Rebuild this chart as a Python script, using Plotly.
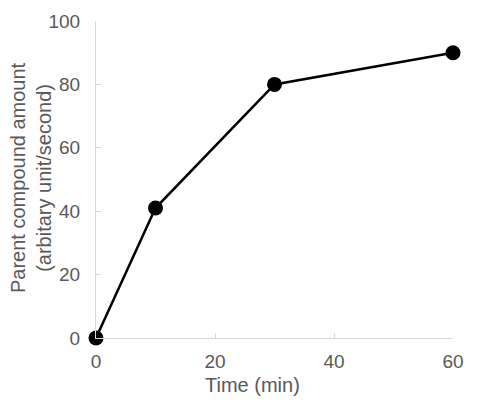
import plotly.graph_objects as go

time_min = [0, 10, 30, 60]
amount = [0, 41, 80, 90]
x_ticks = [0, 20, 40, 60]
y_ticks = [0, 20, 40, 60, 80, 100]

FONT = "Liberation Sans, Arial, sans-serif"
GRAY = "#595959"
AXIS = "#d9d9d9"

# page body has an 8px margin, so figure coords = screen coords - 8
OFF = 8
L, T, R, B = 96 - OFF, 21 - OFF, 38, 75
W, H = 483, 405

fig = go.Figure()
fig.add_trace(go.Scatter(
    x=time_min, y=amount, mode="lines+markers",
    line=dict(color="black", width=2.5),
    marker=dict(color="black", size=15),
    cliponaxis=False, showlegend=False,
))

fig.update_layout(
    width=W, height=H,
    margin=dict(l=L, r=R, t=T, b=B, autoexpand=False),
    paper_bgcolor="white", plot_bgcolor="white",
    font=dict(family=FONT, color=GRAY, size=19),
    xaxis=dict(range=[0, 60], tickvals=x_ticks, showgrid=False, zeroline=False,
               showline=True, linecolor=AXIS, linewidth=1,
               ticks="inside", ticklen=5, tickcolor=AXIS, ticklabelstandoff=6,
               tickfont=dict(size=19, color=GRAY)),
    yaxis=dict(range=[0, 100], tickvals=y_ticks, showgrid=False, zeroline=False,
               showline=True, linecolor=AXIS, linewidth=1,
               ticks="inside", ticklen=5, tickcolor=AXIS, ticklabelstandoff=11,
               tickfont=dict(size=19, color=GRAY)),
)

pw = W - L - R
ph = H - T - B
def to_paper(sx, sy):
    return (sx - OFF - L) / pw, (H - B - (sy - OFF)) / ph

ax, ay = to_paper(252, 385)
bx, by = to_paper(31, 178)
fig.add_annotation(text="Time (min)", x=ax, y=ay, xref="paper", yref="paper",
                   xanchor="center", yanchor="middle", showarrow=False,
                   font=dict(size=20, color=GRAY))
fig.add_annotation(text="Parent compound amount<br>(arbitary unit/second)", textangle=-90,
                   x=bx, y=by, xref="paper", yref="paper",
                   xanchor="center", yanchor="middle", showarrow=False,
                   font=dict(size=20, color=GRAY))

fig.write_html("out.html")
